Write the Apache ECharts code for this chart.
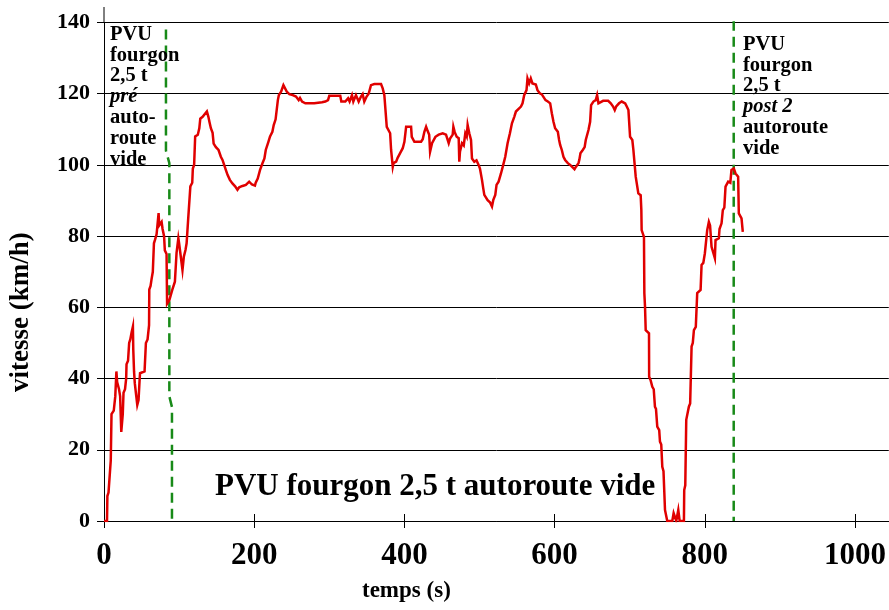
<!DOCTYPE html>
<html><head><meta charset="utf-8">
<script src="https://cdn.jsdelivr.net/npm/echarts/dist/echarts.min.js"></script>
<style>html,body{margin:0;padding:0;background:#fff}#c{width:889px;height:610px}</style>
</head><body><div id="c"></div>
<script>
// ---- data ----
const times = [0,4,4.5,6,9,10,13,15,16.5,17.5,20,21.5,23,24,25,26,28,29.5,30,32,33.5,35,36.8,38.5,39,40,41,43,44.3,46,47.5,48,54,55.8,58,60,60.3,62,63.4,65,66.5,68,70,71,72.7,73.5,75,76.7,78,80,81,83.3,84,87,89,91,94.4,96.6,99,100,104.5,106.3,108.5,110,112,114,115,117.5,118.3,120,121.4,124.9,126.9,128.2,131.3,133.5,137,139,140.5,142.3,144.6,146,149,152.5,155.6,157.8,160,162.2,164.5,167.6,171,174.6,177.7,180,184.4,188.9,193.3,197,201,202,204.7,207.8,210.9,213.6,215.4,218.9,221.1,224.2,226,228.5,231.5,232.8,235.8,238.9,241.5,243.3,246.8,251.3,255.7,259.2,261,263.7,268.1,280,290.3,294.7,298.3,300,308,314.6,316,321.3,325,327,330.2,332,335.5,339.1,342.2,344.4,346.6,349.7,352.4,355.5,360,368.9,371.1,373.3,375.5,376.5,381,382.3,384.5,385.5,389,391,394.3,397.8,400,402.3,408.9,409.8,413.3,422.2,424.4,426.6,428.9,431,433,434.2,436.8,439,441.3,443.5,445.7,451,453,455.4,457,459,460.8,464.3,465.2,467,469.6,472.3,473.1,474,476.7,479,481.1,483,484.2,486.4,488.7,490,493.1,496,498.8,500.6,503.3,505,506.4,509,510.8,513.9,516.6,518.3,521,522.7,525.4,528.6,531.6,534.3,537.4,540.5,543.2,546.3,548.5,551,555.2,557.3,559.5,562.6,563.9,566.1,568.3,570.5,573,575,577.2,580.3,583,585.6,587.9,591,594.1,596.3,598.5,600.7,604.3,606,607.4,609.6,611.8,614,617.6,620.7,622.9,626.5,628.5,631.8,633,634.4,637.5,640,641.5,645.1,647.3,648.6,651.7,654.8,656.6,658.4,660.5,664.6,671.3,674.8,677.9,680.1,682,685.8,689.4,691.6,694,696.1,698.3,700.5,703.5,704.9,707,708,710,711.5,714.6,715.5,715.9,719,719.5,720.4,721.3,725.7,725.9,727.9,730.1,732,733.6,735,736.7,739.3,740.3,742,743.4,745,747,750,756.7,758.5,760.2,762,764.7,766.5,772.2,772.6,774,775.3,778.8,780.5,782.4,784,785.5,788,789.9,794.4,795.7,798,800.1,802,803.2,805.4,807,809,811,813.4,814.3,818.7,819.6,822.3,824,826,827.6,831.1,833,834,835.5,838.6,840.9,843,844.4,845.3,848.9,850.6];
const speeds = [0,0,7,8,17,30,31,35,42,39,37,35,25,24.5,30,36,37,40,44,45,50,51,53,54.6,48,42,38.7,35,32.6,34,40,41.5,42,50,51,55,65,66,68,70,78,79,80.5,82.7,86.5,83,83,84,82,80,76,75,61,62,63.5,65,67.2,75.3,79.4,78,70.5,74.2,76.1,78,84.5,85,94,95,99,100,108,108.5,110.3,113,113.5,114,115,113.5,112,110.3,109,106,105,104.2,102.3,101.4,100,98.6,97.2,95.8,94.8,94,93,93.7,94.1,94.4,95.3,94.5,94.2,95,96.2,98.6,100.4,101.8,104.2,106.5,108,109.3,111.2,112.8,118.2,119.6,120.6,122.4,122,120.6,119.9,119.6,119.2,118.2,118.8,117.8,117.3,117.3,117.6,117.8,118.2,119.4,119.4,119.4,117.8,117.8,118.7,117.8,119.6,117.8,119.6,117.8,119.2,119.9,117.8,119.2,120,122.4,122.7,122.7,121.5,119.6,119.6,110.7,108.9,104.2,99.5,100.5,100.9,102,103.3,104.7,106.5,110.7,110.7,107.9,106.5,106.5,107.2,109.3,110.7,109.5,108.5,103.7,106.1,106.5,107.9,107.5,108.5,108.9,109,108.5,109,106.1,107.4,108.5,110.7,109.2,107.9,107.5,100.9,103.7,106.1,105.5,108.9,108,111.2,108.9,107,101.8,100.9,101.3,100,99,95.8,93.4,91.6,91.2,90.1,89.5,88.3,90.1,91.6,94.4,95.3,97.6,100,102.3,106.1,108.9,111.7,113.5,115,114.5,116.4,117.3,119.6,121,124.3,122.9,124.3,122.9,123.2,122.6,121,120.1,119.8,119.5,118.2,117.8,117.3,114.5,112.1,110.3,109.3,107,105.6,104.2,102.3,101.4,100.5,100,99.5,98.8,99.5,100.5,101.5,103.3,104.2,105,107,109.8,112.1,116.8,117.8,118.2,119.6,117.3,117.8,118,118,117.3,116.4,115.4,116.4,117.3,117.8,118.2,117.3,116.4,115.4,107.9,107,104.2,104.2,96.7,96.4,92,91.5,87.3,81.7,79.8,64,60.2,53.6,52.7,40.5,39.5,37.7,37,32.1,31.5,26.5,25.5,22.3,21.5,15.2,14,3.1,0,0,2.2,2.2,0,3.1,0,0,8.7,10,28.4,32.1,33,49,50,53.6,54.5,64,64.9,71.9,72.5,75.2,75.5,81.7,84,83,77,77.5,73.8,78.9,79.4,82,83.6,87.3,88,93.9,95.3,95.7,95,98.6,99,97.6,97.2,96.7,86.4,85,81.2];
const preMarkerTimes = [82.5,82.5,87,87,90.5,90.5];
const preMarkerSpeeds = [138,104,100.5,35,32,0];
const postMarkerTimes = [838.5,838.5];
const postMarkerSpeeds = [140.5,0];
const xTickLabels = [0,200,400,600,800,1000];
const yTickLabels = [0,20,40,60,80,100,120,140];
const titleText = 'PVU fourgon 2,5 t autoroute vide';
const xName = 'temps (s)';
const yName = 'vitesse (km/h)';
const preNote = ['PVU','fourgon','2,5 t','pré','auto-','route','vide'];
const postNote = ['PVU','fourgon','2,5 t','post 2','autoroute','vide'];

// ---- chart ----
const FONT = '"Liberation Serif","Times New Roman",serif';
const zip = (a,b) => a.map((v,i)=>[v,b[i]]);
const chart = echarts.init(document.getElementById('c'), null, {renderer:'canvas'});
const noteRich = {
  b:{fontFamily:FONT,fontWeight:'bold',fontSize:20.5,lineHeight:20.8,color:'#000'},
  i:{fontFamily:FONT,fontWeight:'bold',fontStyle:'italic',fontSize:20.5,lineHeight:20.8,color:'#000'}
};
const noteText = (arr, italicIdx) => arr.map((s,i)=> (i===italicIdx?'{i|':'{b|')+s+'}').join('\n');
const option = {
  animation:false,
  backgroundColor:'#fff',
  grid:{left:104, top:22.5, right:-1, height:498.5, containLabel:false},
  xAxis:[{
    type:'value', min:0, max:1045, interval:200,
    axisLine:{show:true, onZero:false, lineStyle:{color:'#000', width:1}},
    axisTick:{show:true, length:7, lineStyle:{color:'#000'}},
    axisLabel:{show:true, margin:19, fontFamily:FONT, fontWeight:'bold', fontSize:31, color:'#000',
      showMaxLabel:false, formatter:v => xTickLabels.includes(v) ? String(v) : ''},
    splitLine:{show:false}
  },{
    type:'value', min:0, max:1045, interval:200, position:'bottom',
    axisLine:{show:false}, axisTick:{show:true, inside:true, length:7, lineStyle:{color:'#000'}},
    axisLabel:{show:false}, splitLine:{show:false}
  }],
  yAxis:{
    type:'value', min:0, max:140, interval:20,
    axisLine:{show:true, lineStyle:{color:'#000', width:1}},
    axisTick:{show:true, length:7, lineStyle:{color:'#000'}},
    axisLabel:{margin:14, fontFamily:FONT, fontWeight:'bold', fontSize:22, color:'#000',
      formatter:v => yTickLabels.includes(v) ? String(v) : ''},
    splitLine:{show:true, lineStyle:{color:'#000', width:1}}
  },
  series:[
    {type:'line', data:zip(preMarkerTimes, preMarkerSpeeds), showSymbol:false, symbol:'none', z:3,
     lineStyle:{color:'#188a18', width:2.5, type:[10,6]}},
    {type:'line', data:zip(postMarkerTimes, postMarkerSpeeds), showSymbol:false, symbol:'none', z:3,
     lineStyle:{color:'#188a18', width:2.5, type:[10,6]}},
    {type:'line', data:zip(times, speeds), showSymbol:false, symbol:'none', z:4,
     lineStyle:{color:'#e00000', width:2.5, join:'miter'}}
  ],
  graphic:[
    {id:'title', type:'text', left:215, top:471, z:10,
     style:{text:titleText, font:'bold 31px '+FONT, fill:'#000'}},
    {id:'xname', type:'text', left:362, top:580, z:10,
     style:{text:xName, font:'bold 23px '+FONT, fill:'#000'}},
    {id:'yname', type:'text', x:8, y:392, rotation:Math.PI/2, z:10,
     style:{text:yName, font:'bold 27px '+FONT, fill:'#000', textVerticalAlign:'top'}},
    {id:'pre', type:'text', left:110, top:24, z:10,
     style:{text:noteText(preNote,3), rich:noteRich, fill:'#000'}},
    {id:'post', type:'text', left:743, top:34, z:10,
     style:{text:noteText(postNote,3), rich:noteRich, fill:'#000'}}
  ]
};
chart.setOption(option);
// short extension of the y axis line above the top gridline, as in the original
const pTop = chart.convertToPixel({gridIndex:0}, [0,140]);
chart.setOption({graphic:[{id:'ystub', type:'line', z:5,
  shape:{x1:pTop[0], y1:pTop[1]-15.5, x2:pTop[0], y2:pTop[1]}, style:{stroke:'#000', lineWidth:1}}]});
</script></body></html>
